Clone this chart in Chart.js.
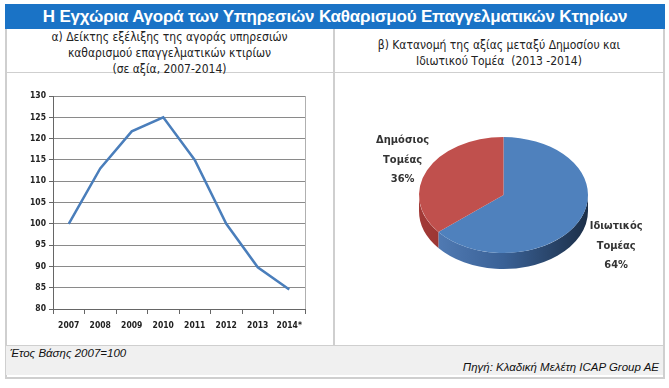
<!DOCTYPE html>
<html>
<head>
<meta charset="utf-8">
<script src="https://cdn.jsdelivr.net/npm/chart.js@4"></script>
<style>
  body { margin: 0; background: #fff; width: 669px; height: 388px; position: relative; font-family: "Liberation Sans", Arial, sans-serif; }
  .box { position: absolute; left: 5px; top: 4px; width: 656px; height: 371px; border: 2px solid #cfcfcf; }
  .title { position: absolute; left: 5px; top: 4px; width: 660px; height: 25px; background: #1a73c6; color: #fff;
    font: bold 17px "Liberation Sans", Arial, sans-serif; text-align: center; line-height: 25px; letter-spacing: -0.2px; }
  .hline { position: absolute; left: 5px; width: 660px; height: 1px; background: #cfcfcf; }
  .vline { position: absolute; left: 333px; top: 29px; width: 2px; height: 317px; background: #cfcfcf; }
  .foot { position: absolute; left: 6px; top: 346px; width: 657px; height: 29px; background: #f0f0f0; }
  .sub { position: absolute; text-align: center; color: #222; font: 12px "DejaVu Sans Condensed", sans-serif; line-height: 16px; }
  .note { position: absolute; font: italic 11.5px "Liberation Sans", Arial, sans-serif; color: #111; }
  canvas { position: absolute; }
</style>
</head>
<body>
<div class="box"></div>
<div class="title">Η Εγχώρια Αγορά των Υπηρεσιών Καθαρισμού Επαγγελματικών Κτηρίων</div>
<div class="hline" style="top:72px"></div>
<div class="vline"></div>
<div class="foot"></div>
<div class="hline" style="top:345px"></div>
<div class="sub" style="left:6px; top:29px; width:327px;">α) Δείκτης εξέλιξης της αγοράς υπηρεσιών<br>καθαρισμού επαγγελματικών κτιρίων<br>(σε αξία, 2007-2014)</div>
<div class="sub" style="left:335px; top:37px; width:328px;">β) Κατανομή της αξίας μεταξύ Δημοσίου και<br>Ιδιωτικού Τομέα&nbsp; (2013 -2014)</div>
<div class="note" style="left:10px; top:347px;">Έτος Βάσης 2007=100</div>
<div class="note" style="right:10px; top:361px;">Πηγή: Κλαδική Μελέτη ICAP Group AE</div>

<canvas id="lineChart" width="327" height="272" style="left:6px; top:74px;"></canvas>
<canvas id="pieChart" width="328" height="272" style="left:335px; top:74px;"></canvas>

<script>
  // left chart: market index, 2007 = 100
  const years = ["2007", "2008", "2009", "2010", "2011", "2012", "2013", "2014*"];
  const indexValues = [100, 113, 121.7, 125, 115, 100, 89.8, 84.6];
  const yMin = 80;
  const yMax = 130;
  const yStep = 5;

  // right chart: split of value between sectors
  const sectorLabels = [["Ιδιωτικός", "Τομέας"], ["Δημόσιος", "Τομέας"]];
  const sectorShares = [64, 36];

  const tickFont = { family: "'DejaVu Sans Condensed', sans-serif", size: 8.5, weight: "bold" };

  const plotBorder = {
    id: "plotBorder",
    afterDraw(chart) {
      const { ctx, chartArea } = chart;
      ctx.save();
      ctx.strokeStyle = "#b0b0b0";
      ctx.lineWidth = 1;
      ctx.beginPath();
      ctx.moveTo(chartArea.right + 0.5, chartArea.top);
      ctx.lineTo(chartArea.right + 0.5, chartArea.bottom);
      ctx.stroke();
      ctx.restore();
    },
  };

  new Chart(document.getElementById("lineChart"), {
    type: "line",
    data: {
      labels: years,
      datasets: [
        {
          data: indexValues,
          borderColor: "#4a7ebb",
          borderWidth: 2.5,
          pointRadius: 0,
          tension: 0,
        },
      ],
    },
    options: {
      responsive: false,
      animation: false,
      events: [],
      layout: { padding: { left: 0, right: 28, top: 22, bottom: 4 } },
      plugins: { legend: { display: false }, tooltip: { enabled: false } },
      scales: {
        x: {
          offset: true,
          grid: { offset: true, drawOnChartArea: false, tickLength: 5, color: "#666" },
          border: { color: "#666" },
          ticks: { color: "#222", font: tickFont, padding: 7, maxRotation: 0, minRotation: 0, autoSkip: false },
          afterFit: (scale) => { scale.height = 33; },
        },
        y: {
          min: yMin,
          max: yMax,
          ticks: { stepSize: yStep, color: "#222", font: tickFont, padding: 3 },
          grid: { color: "#8a8a8a", tickLength: 4, tickColor: "#666" },
          border: { color: "#666" },
          afterFit: (scale) => { scale.width = 47; },
        },
      },
    },
    plugins: [plotBorder],
  });

  // pie drawn flattened with a side wall, to look like the 3D original
  const tilt = 0.686;
  const depth = 16;
  const labelGap = [40, 27];
  const sideColors = [
    ["#5681bb", "#3a6196", "#1c2f48"],
    ["#a23a37", "#8a2b29", "#6e201f"],
  ];

  const pie3d = {
    id: "pie3d",
    beforeDatasetsDraw(chart) {
      const { ctx } = chart;
      const arcs = chart.getDatasetMeta(0).data;
      const { x, y, outerRadius } = arcs[0];
      const ry = outerRadius * tilt;
      arcs.forEach((arc, i) => {
        const a1 = Math.max(arc.startAngle, 0);
        const a2 = Math.min(arc.endAngle, Math.PI);
        if (a2 <= a1) return;
        const g = ctx.createLinearGradient(x - outerRadius, 0, x + outerRadius, 0);
        g.addColorStop(0, sideColors[i][0]);
        g.addColorStop(0.5, sideColors[i][1]);
        g.addColorStop(1, sideColors[i][2]);
        ctx.beginPath();
        ctx.ellipse(x, y, outerRadius, ry, 0, a1, a2);
        ctx.ellipse(x, y + depth, outerRadius, ry, 0, a2, a1, true);
        ctx.closePath();
        ctx.fillStyle = g;
        ctx.fill();
      });
      ctx.save();
      ctx.translate(x, y);
      ctx.scale(1, tilt);
      ctx.translate(-x, -y);
    },
    afterDatasetsDraw(chart) {
      chart.ctx.restore();
    },
    afterDraw(chart) {
      const { ctx } = chart;
      const arcs = chart.getDatasetMeta(0).data;
      ctx.save();
      ctx.fillStyle = "#333";
      ctx.font = "bold 11px 'DejaVu Sans Condensed', sans-serif";
      ctx.textAlign = "center";
      ctx.textBaseline = "middle";
      arcs.forEach((arc, i) => {
        const mid = (arc.startAngle + arc.endAngle) / 2;
        const lx = arc.x + Math.cos(mid) * (arc.outerRadius + labelGap[i]);
        let ly = arc.y + Math.sin(mid) * (arc.outerRadius * tilt + 24);
        if (Math.sin(mid) > 0) ly += depth;
        const lines = sectorLabels[i].concat(sectorShares[i] + "%");
        lines.forEach((t, j) => ctx.fillText(t, lx, ly + (j - 1) * 19.5));
      });
      ctx.restore();
    },
  };

  new Chart(document.getElementById("pieChart"), {
    type: "pie",
    data: {
      labels: sectorLabels.map((l) => l.join(" ")),
      datasets: [
        {
          data: sectorShares,
          backgroundColor: ["#4f81bd", "#c0504d"],
          borderWidth: 0,
        },
      ],
    },
    options: {
      responsive: false,
      animation: false,
      events: [],
      layout: { padding: { left: 84, right: 75, top: 36.5, bottom: 66.5 } },
      plugins: { legend: { display: false }, tooltip: { enabled: false } },
    },
    plugins: [pie3d],
  });
</script>
</body>
</html>
